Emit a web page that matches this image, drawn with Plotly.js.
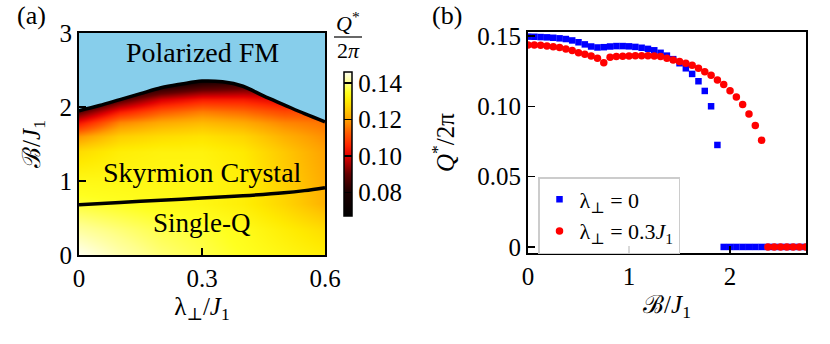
<!DOCTYPE html>
<html><head><meta charset="utf-8">
<script src="https://cdn.plot.ly/plotly-3.0.1.min.js"></script>
<style>html,body{margin:0;padding:0;background:#fff}#chart{width:830px;height:344px}</style>
</head><body><div id="chart"></div>
<script>
// ---------- Panel (a): phase diagram ----------
const lambdaGrid = [0, 0.1, 0.2, 0.3, 0.4, 0.5, 0.6];
const fieldGrid = [0, 0.35, 0.7, 1.05, 1.4, 1.6, 1.8, 1.95, 2.1, 2.25, 2.4, 2.6];
const qMap = [
  [0.146, 0.142, 0.139, 0.137, 0.135, 0.133, 0.131],
  [0.141, 0.139, 0.137, 0.136, 0.134, 0.131, 0.128],
  [0.136, 0.135, 0.134, 0.133, 0.131, 0.127, 0.122],
  [0.133, 0.133, 0.133, 0.133, 0.131, 0.126, 0.121],
  [0.128, 0.131, 0.132, 0.132, 0.130, 0.125, 0.120],
  [0.119, 0.126, 0.128, 0.129, 0.127, 0.122, 0.118],
  [0.103, 0.117, 0.121, 0.123, 0.121, 0.117, 0.115],
  [0.088, 0.104, 0.112, 0.116, 0.114, 0.110, 0.110],
  [0.072, 0.087, 0.099, 0.104, 0.104, 0.100, 0.105],
  [0.067, 0.072, 0.082, 0.088, 0.090, 0.090, 0.100],
  [0.067, 0.067, 0.068, 0.074, 0.077, 0.080, 0.095],
  [0.067, 0.067, 0.067, 0.067, 0.067, 0.067, 0.067]
];
// upper phase boundary (Skyrmion crystal / polarized FM)
const upperLambda = [0, 0.05, 0.1, 0.15, 0.2, 0.25, 0.3, 0.35, 0.4, 0.45, 0.5, 0.55, 0.6];
const upperField  = [1.95, 2.02, 2.10, 2.18, 2.26, 2.31, 2.35, 2.34, 2.28, 2.15, 2.03, 1.91, 1.80];
// lower phase boundary (single-Q / Skyrmion crystal)
const lowerLambda = [0, 0.1, 0.2, 0.3, 0.4, 0.5, 0.55, 0.6];
const lowerField  = [0.68, 0.71, 0.74, 0.77, 0.80, 0.84, 0.87, 0.91];
const colorTicks = [0.08, 0.10, 0.12, 0.14];
const colorTickText = ['0.08', '0.10', '0.12', '0.14'];

// ---------- Panel (b): Q*/2pi vs field ----------
const fieldB = [0, 0.0625, 0.125, 0.1875, 0.25, 0.3125, 0.375, 0.4375, 0.5, 0.5625,
  0.625, 0.6875, 0.75, 0.8125, 0.875, 0.9375, 1.0, 1.0625, 1.125, 1.1875,
  1.25, 1.3125, 1.375, 1.4375, 1.5, 1.5625, 1.625, 1.6875, 1.75, 1.8125,
  1.875, 1.9375, 2.0, 2.0625, 2.125, 2.1875, 2.25, 2.3125, 2.375, 2.4375,
  2.5, 2.5625, 2.625, 2.6875, 2.75];
const qLambda0 = [0.1495, 0.1494, 0.1492, 0.1490, 0.1487, 0.1483, 0.1478, 0.1468, 0.1455, 0.1440,
  0.1425, 0.1418, 0.1420, 0.1425, 0.1428, 0.1428, 0.1426, 0.1422, 0.1416, 0.1408,
  0.1398, 0.1380, 0.1360, 0.1335, 0.1306, 0.1270, 0.1230, 0.1178, 0.1109, 0.1000,
  0.0725, 0, 0, 0, 0, 0, 0, 0, 0, 0,
  0, 0, 0, 0, 0];
const qLambda03 = [0.1436, 0.1436, 0.1434, 0.1429, 0.1424, 0.1417, 0.1408, 0.1396, 0.1381, 0.1370,
  0.1358, 0.1341, 0.1310, 0.1348, 0.1353, 0.1356, 0.1358, 0.1360, 0.1360, 0.1360,
  0.1358, 0.1353, 0.1341, 0.1329, 0.1318, 0.1306, 0.1291, 0.1270, 0.1246, 0.1220,
  0.1187, 0.1154, 0.1111, 0.1066, 0.1012, 0.0945, 0.0863, 0.0759, 0, 0,
  0, 0, 0, 0, 0];

const FONT = 'Liberation Serif, DejaVu Serif, serif';
const ZMIN = 0.067, ZMAX = 0.146;
const cs = (q, c) => [(q - ZMIN) / (ZMAX - ZMIN), c];
const colorscale = [
  cs(0.067, '#000000'),
  cs(0.080, '#1c0000'),
  cs(0.090, '#640000'),
  cs(0.100, '#e00000'),
  cs(0.106, '#ff2800'),
  cs(0.113, '#ff6000'),
  cs(0.120, '#ffa200'),
  cs(0.125, '#ffc800'),
  cs(0.130, '#ffea00'),
  cs(0.135, '#ffff20'),
  cs(0.140, '#ffff8c'),
  cs(0.146, '#fffff2')
];

const traces = [
  {
    type: 'heatmap', x: lambdaGrid, y: fieldGrid, z: qMap,
    xaxis: 'x', yaxis: 'y', zsmooth: 'best', showlegend: false,
    zmin: ZMIN, zmax: ZMAX, colorscale: colorscale, hoverinfo: 'skip',
    colorbar: {
      x: 344/830, xanchor: 'left', xpad: 0, ypad: 0,
      y: (344-216)/344, yanchor: 'bottom', len: 144/344, lenmode: 'fraction',
      thickness: 8, outlinewidth: 1.5, outlinecolor: '#000',
      tickvals: colorTicks, ticktext: colorTickText,
      ticks: 'inside', ticklen: 8, tickwidth: 1.5, tickcolor: '#000',
      tickfont: {family: FONT, size: 25, color: '#000'}
    }
  },
  {
    type: 'scatter', mode: 'lines', x: [0, 0.6], y: [3, 3],
    xaxis: 'x', yaxis: 'y', line: {width: 0}, showlegend: false, hoverinfo: 'skip'
  },
  {
    type: 'scatter', mode: 'lines', x: upperLambda, y: upperField,
    xaxis: 'x', yaxis: 'y', fill: 'tonexty', fillcolor: '#87ceeb',
    line: {color: '#000', width: 3.5, shape: 'spline'}, showlegend: false, hoverinfo: 'skip'
  },
  {
    type: 'scatter', mode: 'lines', x: lowerLambda, y: lowerField,
    xaxis: 'x', yaxis: 'y',
    line: {color: '#000', width: 3.5, shape: 'spline'}, showlegend: false, hoverinfo: 'skip'
  },
  {
    type: 'scatter', mode: 'markers', x: fieldB, y: qLambda0,
    xaxis: 'x2', yaxis: 'y2', name: 'λ<sub>⊥</sub> = 0',
    marker: {symbol: 'square', size: 6.5, color: '#0000ff'}, cliponaxis: true
  },
  {
    type: 'scatter', mode: 'markers', x: fieldB, y: qLambda03,
    xaxis: 'x2', yaxis: 'y2', name: 'λ<sub>⊥</sub> = 0.3<i>J</i><sub>1</sub>',
    marker: {symbol: 'circle', size: 7.5, color: '#ff0000'}, cliponaxis: true
  }
];

const axisCommon = {
  showline: true, mirror: true, linewidth: 2, linecolor: '#000',
  ticks: 'inside', ticklen: 7, tickwidth: 1.5, tickcolor: '#000',
  showgrid: false, zeroline: false, fixedrange: true,
  tickfont: {family: FONT, size: 25, color: '#000'}
};

const layout = {
  width: 830, height: 344,
  margin: {l: 0, r: 0, t: 0, b: 0},
  paper_bgcolor: '#fff', plot_bgcolor: '#fff',
  font: {family: FONT, size: 25, color: '#000'},
  xaxis: Object.assign({}, axisCommon, {
    domain: [79/830, 325/830], range: [0, 0.6], anchor: 'y',
    tickvals: [0, 0.3, 0.6], ticktext: ['0', '0.3', '0.6'],
    title: {text: 'λ<sub>⊥</sub>/<i>J</i><sub>1</sub>', font: {family: FONT, size: 25}, standoff: 6}
  }),
  yaxis: Object.assign({}, axisCommon, {
    domain: [(344-255)/344, (344-33)/344], range: [0, 3], anchor: 'x',
    tickvals: [0, 1, 2, 3], ticktext: ['0', '1', '2', '3'],
    title: {text: 'ℬ/<i>J</i><sub>1</sub>', font: {family: FONT, size: 25}, standoff: 12}
  }),
  xaxis2: Object.assign({}, axisCommon, {
    domain: [528/830, 806/830], range: [0, 2.752], anchor: 'y2',
    tickvals: [0, 1, 2], ticktext: ['0', '1', '2'],
    title: {text: 'ℬ/<i>J</i><sub>1</sub>', font: {family: FONT, size: 25}, standoff: 6}
  }),
  yaxis2: Object.assign({}, axisCommon, {
    domain: [(344-253)/344, (344-32)/344], range: [-0.0043, 0.1528], anchor: 'x2',
    tickvals: [0, 0.05, 0.10, 0.15], ticktext: ['0', '0.05', '0.10', '0.15'],
    title: {text: '<i>Q</i><sup>*</sup>/2π', font: {family: FONT, size: 25}, standoff: 16}
  }),
  legend: {
    x: 538/830, y: (344-177)/344, xanchor: 'left', yanchor: 'top',
    traceorder: 'normal',
    bgcolor: 'rgba(255,255,255,0.85)', bordercolor: '#cccccc', borderwidth: 1.5,
    font: {family: FONT, size: 22, color: '#000'}, tracegroupgap: 0
  },
  annotations: [
    {xref: 'paper', yref: 'paper', x: 15/830, y: 1 - 16/344, xanchor: 'left', yanchor: 'middle',
     text: '(a)', showarrow: false, font: {family: FONT, size: 26}},
    {xref: 'paper', yref: 'paper', x: 430/830, y: 1 - 16/344, xanchor: 'left', yanchor: 'middle',
     text: '(b)', showarrow: false, font: {family: FONT, size: 26}},
    {xref: 'x', yref: 'y', x: 0.3, y: 2.73, text: 'Polarized FM', showarrow: false,
     font: {family: FONT, size: 28}},
    {xref: 'x', yref: 'y', x: 0.3, y: 1.12, text: 'Skyrmion Crystal', showarrow: false,
     font: {family: FONT, size: 28}},
    {xref: 'x', yref: 'y', x: 0.3, y: 0.43, text: 'Single-Q', showarrow: false,
     font: {family: FONT, size: 27}},
    {xref: 'paper', yref: 'paper', x: 348/830, y: 1 - 22/344, xanchor: 'center', yanchor: 'middle',
     text: '<i>Q</i><sup>*</sup>', showarrow: false, font: {family: FONT, size: 22}},
    {xref: 'paper', yref: 'paper', x: 348/830, y: 1 - 50/344, xanchor: 'center', yanchor: 'middle',
     text: '2<i>π</i>', showarrow: false, font: {family: FONT, size: 22}}
  ],
  shapes: [
    {type: 'line', xref: 'paper', yref: 'paper', x0: 334/830, x1: 362/830,
     y0: 1 - 37/344, y1: 1 - 37/344, line: {color: '#000', width: 1.2}}
  ]
};

Plotly.newPlot('chart', traces, layout, {staticPlot: true, displayModeBar: false});
</script>
</body></html>
